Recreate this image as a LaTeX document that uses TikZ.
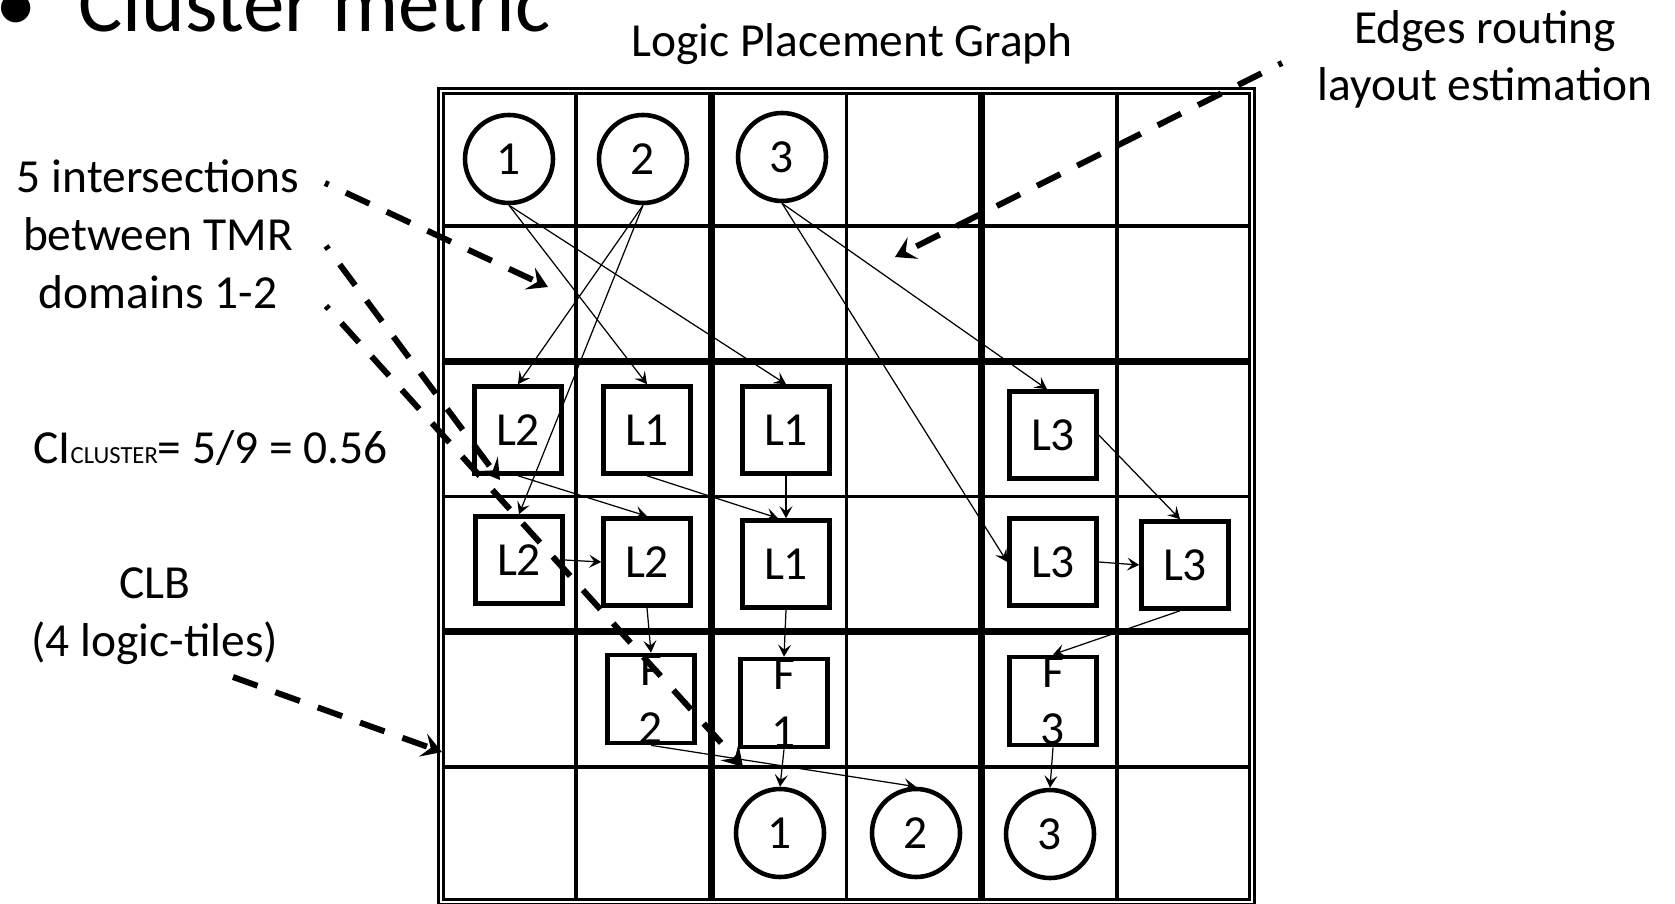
\documentclass[tikz,border=0pt]{standalone}
\usepackage{fontspec}
\setmainfont{Carlito}
\usetikzlibrary{arrows.meta}

\tikzset{
  tile/.style={draw, line width=1.3pt, minimum size=0.87cm, inner sep=0pt, align=center},
  io/.style={draw, circle, line width=1.3pt, minimum size=0.88cm, inner sep=0pt},
  wire/.style={line width=0.35pt, -{Stealth[length=1.2mm,width=1.3mm,inset=0.5mm]}},
  note/.style={line width=1.7pt, dash pattern=on 0.26cm off 0.19cm,
    -{Stealth[length=2mm,width=2.4mm,inset=0.8mm]}},
  stub/.style={dash phase=0.22cm},
}

\begin{document}
\begin{tikzpicture}[every node/.style={font=\fontsize{13.5}{16.4}\selectfont}]
	\useasboundingbox (0,0) rectangle (16.75,9.03);

	% Titles
	\node (title) at (0.66,8.71) [anchor=base west, font=\fontsize{23.6}{28}\selectfont]
		{\llap{\textbullet\hspace{0.42cm}}Cluster metric};
	\node (lpg) at (8.52,8.46) [anchor=base] {Logic Placement Graph};
	% (base of a multi-line node = its last line)
	\node (edges) at (14.85,8.02) [anchor=base, align=center] {Edges routing\\layout estimation};

	% Left hand notes
	\node (inter) at (1.58,5.95) [anchor=base, align=center] {5 intersections\\between TMR\\domains 1-2};
	\node (ci) at (0.21,4.40) [anchor=base west]
		{CI{\fontsize{7}{8}\selectfont CLUSTER}= 5/9 = 0.56};
	\node (clb) at (1.55,2.47) [anchor=base, align=center] {CLB\\(4 logic-tiles)};

	% Grid of logic tiles
	%thin
	\foreach \x in {5.762,8.466,11.17}
		\draw[line width=1pt] (\x,0.01) -- (\x,8.12);
	\foreach \y in {6.768,4.064,1.36}
		\draw[line width=1pt] (4.41,\y) -- (12.522,\y);
	%CLB borders
	\foreach \x in {7.114,9.818}
		\draw[line width=2pt] (\x,0.01) -- (\x,8.12);
	\foreach \y in {5.416,2.712}
		\draw[line width=2pt] (4.41,\y) -- (12.522,\y);
	%frame
	\draw[line width=0.9pt, double, double distance=0.5pt] (4.41,0.01) rectangle (12.522,8.12);

	% Inputs
	\node (i1) at (5.09,7.44) [io] {1};
	\node (i2) at (6.43,7.44) [io] {2};
	\node (i3) at (7.82,7.46) [io] {3};

	% Logic
	\node (l2a) at (5.18,4.73) [tile] {L2};
	\node (l1a) at (6.47,4.73) [tile] {L1};
	\node (l1b) at (7.86,4.73) [tile] {L1};
	\node (l3a) at (10.53,4.68) [tile] {L3};
	\node (l2b) at (5.19,3.43) [tile] {L2};
	\node (l2c) at (6.47,3.41) [tile] {L2};
	\node (l1c) at (7.86,3.39) [tile] {L1};
	\node (l3b) at (10.53,3.41) [tile] {L3};
	\node (l3c) at (11.85,3.38) [tile] {L3};

	% Flip-flops
	\node (f2) at (6.51,2.04) [tile] {F\\2};
	\node (f1) at (7.84,2.00) [tile] {F\\1};
	\node (f3) at (10.53,2.02) [tile] {F\\3};

	% Outputs
	\node (o1) at (7.80,0.70) [io] {1};
	\node (o2) at (9.16,0.70) [io] {2};
	\node (o3) at (10.50,0.69) [io] {3};

	% Edges
	\draw[wire] (i1.south) -- (l1a.north);
	\draw[wire] (i1.south) -- (l1b.north);
	\draw[wire] (i2.south) -- (l2a.north);
	\draw[wire] (i2.south) -- (l2b.north);
	\draw[wire] (i3.south) -- ([xshift=-0.06cm]l3a.north);
	\draw[wire] (i3.south) -- (l3b.west);
	\draw[wire] (l2a.south) -- (l2c.north);
	\draw[wire] (l1a.south) -- ([xshift=-0.08cm]l1c.north);
	\draw[wire] (l1b.south) -- (l1c.north);
	\draw[wire] (l3a.east) -- ([xshift=-0.05cm]l3c.north);
	\draw[wire] (l2b.east) -- (l2c.west);
	\draw[wire] (l3b.east) -- (l3c.west);
	\draw[wire] (l2c.south) -- (f2.north);
	\draw[wire] (l1c.south) -- (f1.north);
	\draw[wire] ([xshift=-0.05cm]l3c.south) -- (f3.north);
	\draw[wire] (f2.south) -- (o2.north);
	\draw[wire] (f1.south) -- (o1.north);
	\draw[wire] (f3.south) -- (o3.north);

	% Pointers from the notes
	\coordinate (inter1) at (3.25,7.20);
	\coordinate (inter2) at (3.26,6.57);
	\coordinate (inter3) at (3.26,5.97);
	\coordinate (cross1) at (5.48,6.16);
	\coordinate (cross2) at (5.00,4.23);
	\coordinate (cross3) at (7.43,1.36);
	\coordinate (clbs) at (2.33,2.26);
	\coordinate (clbe) at (4.42,1.51);
	\coordinate (edgs) at (12.82,8.40);
	\coordinate (edge) at (8.95,6.46);

	\draw[note, stub] (inter1) -- (cross1);
	\draw[note, stub] (inter2) -- (cross2);
	\draw[note, stub] (inter3) -- (cross3);
	\draw[note] (clbs) -- (clbe);
	\draw[note, stub] (edgs) -- (edge);
\end{tikzpicture}
\end{document}
